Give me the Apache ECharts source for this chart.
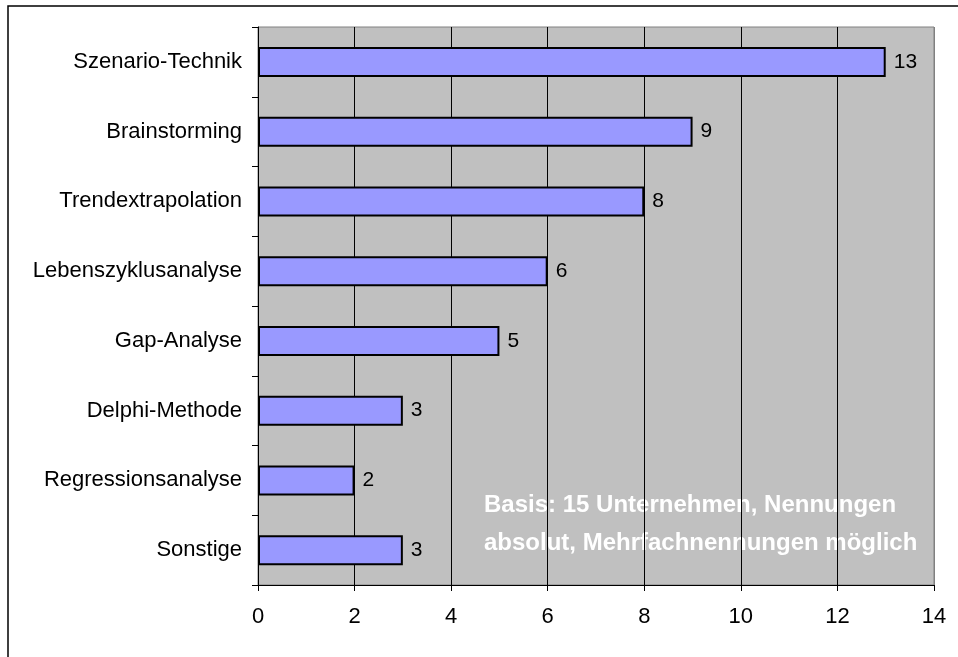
<!DOCTYPE html>
<html>
<head>
<meta charset="utf-8">
<script src="https://cdn.jsdelivr.net/npm/echarts@6/dist/echarts.min.js"></script>
<style>
  html, body { margin: 0; padding: 0; background: #fff; }
  #chart { width: 958px; height: 657px; }
</style>
</head>
<body>
<div id="chart"></div>
<script>
// categories from top to bottom
const categories = [
  'Szenario-Technik', 'Brainstorming', 'Trendextrapolation', 'Lebenszyklusanalyse',
  'Gap-Analyse', 'Delphi-Methode', 'Regressionsanalyse', 'Sonstige'
];
const counts = [13, 9, 8, 6, 5, 3, 2, 3];
const noteLines = [
  'Basis: 15 Unternehmen, Nennungen',
  'absolut, Mehrfachnennungen möglich'
];

const font = '"Liberation Sans", Arial, sans-serif';
const chart = echarts.init(document.getElementById('chart'), null, { renderer: 'canvas' });

chart.setOption({
  animation: false,
  backgroundColor: '#fff',
  grid: {
    left: 258, right: 24, top: 27, bottom: 72,
    show: true, backgroundColor: '#c0c0c0', borderColor: '#808080', borderWidth: 1
  },
  xAxis: {
    type: 'value', min: 0, max: 14, interval: 2,
    axisLine: { show: true, lineStyle: { color: '#000', width: 1 } },
    axisTick: { show: true, length: 6, lineStyle: { color: '#000' } },
    axisLabel: { color: '#000', fontFamily: font, fontSize: 22, margin: 21 },
    splitLine: {
      show: true,
      lineStyle: { color: ['#000', '#000', '#000', '#000', '#000', '#000', '#000', '#808080'], width: 1 }
    }
  },
  yAxis: {
    type: 'category', data: categories, inverse: true,
    axisLine: { show: true, lineStyle: { color: '#000', width: 1 } },
    axisTick: { show: true, length: 6, alignWithLabel: false, lineStyle: { color: '#000' } },
    axisLabel: { color: '#000', fontFamily: font, fontSize: 22, margin: 16 },
    splitLine: { show: false }
  },
  series: [{
    type: 'bar',
    data: counts,
    barWidth: 30,
    itemStyle: { color: '#9999ff', borderColor: '#000', borderWidth: 2 },
    label: {
      show: true, position: 'right', distance: 8,
      color: '#000', fontFamily: font, fontSize: 21
    }
  }],
  graphic: [
    {
      type: 'rect', silent: true,
      shape: { x: 8, y: 6, width: 1000, height: 700 },
      style: { fill: 'none', stroke: '#000', lineWidth: 1.5 }
    },
    {
      type: 'text', x: 484, y: 505, silent: true,
      style: { text: noteLines[0], fill: '#fff', fontFamily: font, fontWeight: 'bold', fontSize: 24, textVerticalAlign: 'middle' }
    },
    {
      type: 'text', x: 484, y: 543, silent: true,
      style: { text: noteLines[1], fill: '#fff', fontFamily: font, fontWeight: 'bold', fontSize: 24, textVerticalAlign: 'middle' }
    }
  ]
});
</script>
</body>
</html>
